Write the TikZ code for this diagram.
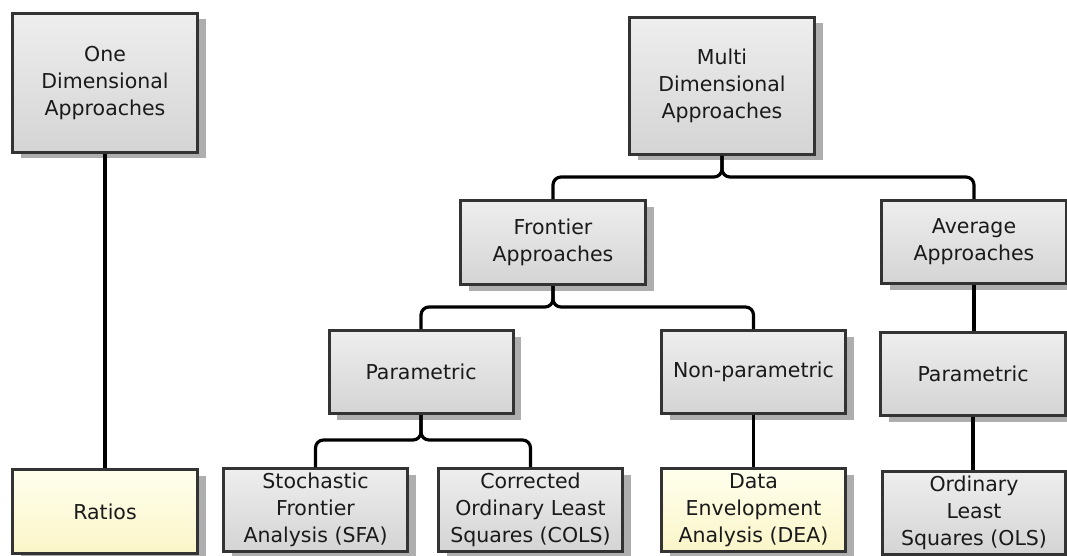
\documentclass[tikz,border=0pt]{standalone}
\usepackage{fontspec}
\setmainfont{DejaVu Sans}
\usetikzlibrary{shadows}
\definecolor{boxtop}{HTML}{EEEEEE}
\definecolor{boxbot}{HTML}{D4D4D4}
\definecolor{yeltop}{HTML}{FFFFEE}
\definecolor{yelbot}{HTML}{FAF5C8}
\definecolor{bordc}{HTML}{333333}
\definecolor{shadowc}{HTML}{AEAEAE}
\definecolor{txtc}{HTML}{1A1A1A}
\begin{document}
\begin{tikzpicture}[x=1pt,y=-1pt,
  box/.style={draw=bordc, line width=3pt, top color=boxtop, bottom color=boxbot,
    align=center, inner sep=0pt, text=txtc, font=\fontsize{20.5}{27}\selectfont,
    minimum width=185pt, minimum height=83pt,
    drop shadow={shadow xshift=8pt, shadow yshift=-6pt, fill=shadowc, opacity=1}},
  ybox/.style={box, top color=yeltop, bottom color=yelbot},
  conn/.style={draw=black, line width=3.2pt, rounded corners=8pt}
]
\useasboundingbox[fill=white] (0,0) rectangle (1067,556);
\begin{scope}
\clip (0,0) rectangle (1067,556);
\node[box, minimum height=139pt] (one) at (105,83) {One\\Dimensional\\Approaches};
\node[box, minimum height=137pt] (multi) at (722,86) {Multi\\Dimensional\\Approaches};
\node[box, minimum height=84pt] (frontier) at (553,242.5) {Frontier\\Approaches};
\node[box] (average) at (974,242) {Average\\Approaches};
\node[box, minimum width=184pt] (paramL) at (421,372) {Parametric};
\node[box, minimum width=184pt] (nonparam) at (753.5,372) {Non-parametric};
\node[box] (paramR) at (973,374) {Parametric};
\node[ybox, minimum height=84pt] (ratios) at (105,511.5) {Ratios};
\node[box, minimum width=184pt] (sfa) at (315.5,510) {Stochastic\\Frontier\\Analysis (SFA)};
\node[box, minimum width=184pt] (cols) at (530.5,510) {Corrected\\Ordinary Least\\Squares (COLS)};
\node[ybox, minimum width=184pt] (dea) at (753.5,510) {Data\\Envelopment\\Analysis (DEA)};
\node[box, minimum width=183pt] (ols) at (974,513) {Ordinary\\Least\\Squares (OLS)};
\end{scope}
\draw[conn] (one.south) -- (one.south |- ratios.north);
\draw[conn] (multi.south) -- (multi.south |- 0,177) -| (frontier.north);
\draw[conn] (multi.south) -- (multi.south |- 0,177) -| (average.north);
\draw[conn] (frontier.south) -- (frontier.south |- 0,307) -| (paramL.north);
\draw[conn] (frontier.south) -- (frontier.south |- 0,307) -| (nonparam.north);
\draw[conn] (average.south) -- (average.south |- paramR.north);
\draw[conn] (paramL.south) -- (paramL.south |- 0,440) -| (sfa.north);
\draw[conn] (paramL.south) -- (paramL.south |- 0,440) -| (cols.north);
\draw[conn] (nonparam.south) -- (nonparam.south |- dea.north);
\draw[conn] (paramR.south) -- (paramR.south |- ols.north);
\end{tikzpicture}
\end{document}
